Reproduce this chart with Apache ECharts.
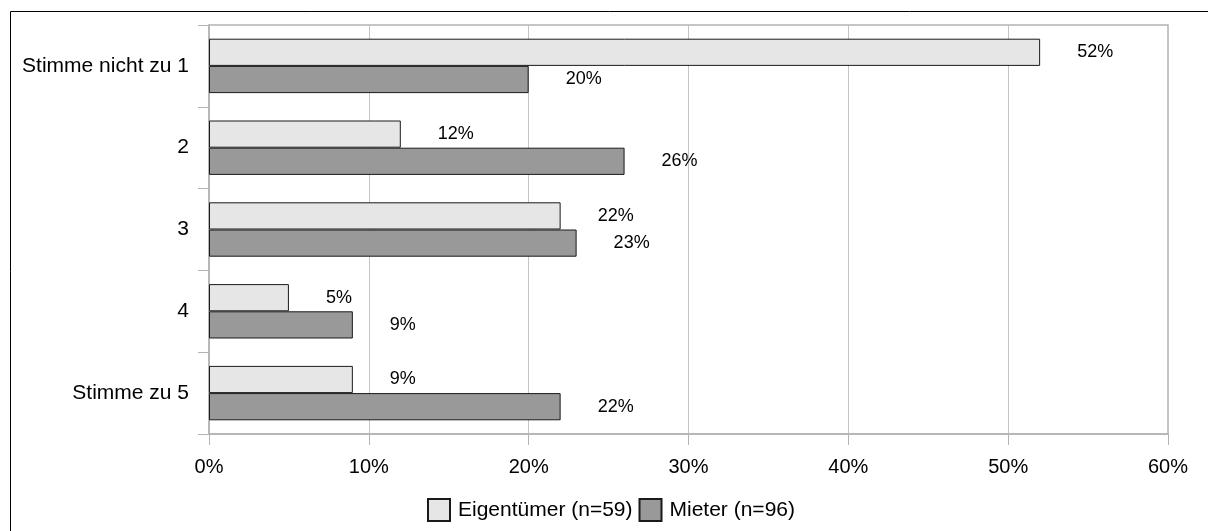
<!DOCTYPE html>
<html>
<head>
<meta charset="utf-8">
<script src="https://cdn.jsdelivr.net/npm/echarts@6/dist/echarts.min.js"></script>
<style>
html,body{margin:0;padding:0;background:#fff;}
#chart{width:1208px;height:531px;}
</style>
</head>
<body>
<div id="chart"></div>
<script>
const categories = ['Stimme nicht zu 1', '2', '3', '4', 'Stimme zu 5'];
const eigentuemer = [52, 12, 22, 5, 9];
const mieter = [20, 26, 23, 9, 22];
const seriesNames = ['Eigentümer (n=59)', 'Mieter (n=96)'];
const xTicks = [0, 10, 20, 30, 40, 50, 60];

const FONT = "'Liberation Sans', Arial, sans-serif";
const chart = echarts.init(document.getElementById('chart'), null, {renderer: 'canvas'});

function barSeries(name, data, color) {
  return {
    name: name,
    type: 'bar',
    data: data,
    barGap: '0%',
    barCategoryGap: '33.5%',
    itemStyle: {color: color, borderColor: '#1a1a1a', borderWidth: 1},
    label: {
      show: true,
      position: 'right',
      distance: 37,
      formatter: '{c}%',
      color: '#000',
      fontSize: 18,
      fontFamily: FONT
    },
    emphasis: {disabled: true},
    animation: false
  };
}

chart.setOption({
  animation: false,
  backgroundColor: '#fff',
  textStyle: {fontFamily: FONT},
  graphic: [{
    type: 'rect',
    shape: {x: 10.5, y: 11.5, width: 1300, height: 700},
    style: {fill: 'none', stroke: '#000', lineWidth: 1},
    silent: true
  }],
  grid: {
    left: 209, top: 25, right: 40, bottom: 97,
    show: true, borderColor: '#b3b3b3', borderWidth: 1.5, backgroundColor: 'transparent'
  },
  legend: {
    data: seriesNames,
    left: 427, top: 498,
    padding: 0,
    icon: 'rect',
    itemWidth: 22, itemHeight: 22,
    itemGap: 6,
    textStyle: {fontSize: 21, color: '#000', fontFamily: FONT, padding: [0, 0, 0, 3]},
    selectedMode: false
  },
  xAxis: {
    type: 'value',
    min: xTicks[0], max: xTicks[xTicks.length - 1], interval: 10,
    axisLine: {show: true, lineStyle: {color: '#b3b3b3', width: 1.5}},
    axisTick: {show: true, length: 11, lineStyle: {color: '#b3b3b3'}},
    splitLine: {show: true, lineStyle: {color: '#c4c4c4', width: 1}},
    axisLabel: {formatter: '{value}%', fontSize: 20, color: '#000', margin: 23, fontFamily: FONT}
  },
  yAxis: {
    type: 'category',
    data: categories,
    inverse: true,
    axisLine: {show: true, lineStyle: {color: '#b3b3b3', width: 1.5}},
    axisTick: {show: true, length: 11, lineStyle: {color: '#b3b3b3'}},
    splitLine: {show: false},
    axisLabel: {fontSize: 21, color: '#000', margin: 20, fontFamily: FONT}
  },
  series: [
    barSeries(seriesNames[0], eigentuemer, '#e6e6e6'),
    barSeries(seriesNames[1], mieter, '#999999')
  ]
});
</script>
</body>
</html>
